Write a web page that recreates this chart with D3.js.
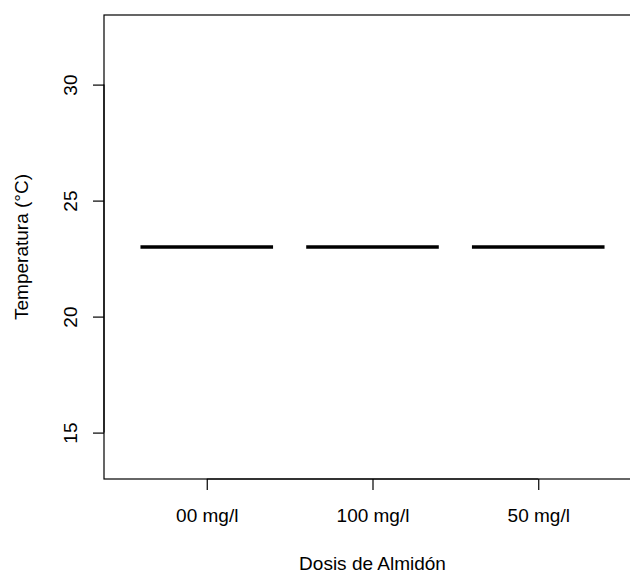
<!DOCTYPE html>
<html>
<head>
<meta charset="utf-8">
<script src="https://cdn.jsdelivr.net/npm/d3@7"></script>
<style>
  body { margin: 0; background: #fff; }
  text { font-family: "Liberation Sans", Arial, sans-serif; fill: #000; }
</style>
</head>
<body>
<div id="chart"></div>
<script>
// boxplot statistics per group (all readings were 23 °C)
var categories = ["00 mg/l", "100 mg/l", "50 mg/l"];
var whiskerLow = [23, 23, 23];
var lowerQ = [23, 23, 23];
var medians = [23, 23, 23];
var upperQ = [23, 23, 23];
var whiskerHigh = [23, 23, 23];
var yTicks = [15, 20, 25, 30];

var width = 630, height = 573;
var mLeft = 104, mRight = 641, mTop = 15, mBottom = 479;

var svg = d3.select("#chart").append("svg")
  .attr("width", width)
  .attr("height", height);

var x = d3.scaleLinear().domain([0.38, categories.length + 0.62]).range([mLeft, mRight]);
var y = d3.scaleLinear().domain([13, 33]).range([mBottom, mTop]);
var boxW = x(0.8) - x(0);

var data = categories.map(function(c, i) {
  return { name: c, pos: i + 1, lo: whiskerLow[i], q1: lowerQ[i], med: medians[i], q3: upperQ[i], hi: whiskerHigh[i] };
});

// boxes
var g = svg.selectAll(".box").data(data).enter().append("g").attr("class", "box");

g.append("line")
  .attr("x1", function(d) { return x(d.pos); })
  .attr("x2", function(d) { return x(d.pos); })
  .attr("y1", function(d) { return y(d.lo); })
  .attr("y2", function(d) { return y(d.hi); })
  .attr("stroke", "#000")
  .attr("stroke-dasharray", "4,3");

g.append("rect")
  .attr("x", function(d) { return x(d.pos) - boxW / 2; })
  .attr("width", boxW)
  .attr("y", function(d) { return y(d.q3); })
  .attr("height", function(d) { return y(d.q1) - y(d.q3); })
  .attr("fill", "none")
  .attr("stroke", "#000");

g.append("line")
  .attr("x1", function(d) { return x(d.pos) - boxW / 2; })
  .attr("x2", function(d) { return x(d.pos) + boxW / 2; })
  .attr("y1", function(d) { return y(d.med); })
  .attr("y2", function(d) { return y(d.med); })
  .attr("stroke", "#000")
  .attr("stroke-width", 3.6);

// frame
svg.append("rect")
  .attr("x", mLeft).attr("y", mTop)
  .attr("width", mRight - mLeft).attr("height", mBottom - mTop)
  .attr("fill", "none").attr("stroke", "#000").attr("stroke-width", 1.2);

// y axis
var yAxis = svg.append("g").attr("transform", "translate(" + mLeft + ",0)")
  .call(d3.axisLeft(y).tickValues(yTicks).tickSize(11).tickFormat(d3.format("d")));
yAxis.select(".domain").attr("d", "M0," + y(15) + "V" + y(30)).attr("stroke-width", 1.2);
yAxis.selectAll(".tick line").attr("stroke-width", 1.2);
yAxis.selectAll(".tick text")
  .attr("x", null).attr("dy", null)
  .attr("text-anchor", "middle")
  .attr("transform", "translate(-27.5,0) rotate(-90)")
  .style("font-size", "19px");

// x axis
var xAxis = svg.append("g").attr("transform", "translate(0," + mBottom + ")")
  .call(d3.axisBottom(x).tickValues(data.map(function(d) { return d.pos; }))
    .tickSize(11).tickFormat(function(v) { return categories[v - 1]; }));
xAxis.select(".domain").attr("d", "M" + x(1) + ",0H" + x(3)).attr("stroke-width", 1.2);
xAxis.selectAll(".tick line").attr("stroke-width", 1.2);
xAxis.selectAll(".tick text")
  .attr("y", 43).attr("dy", null)
  .style("font-size", "19px");

// titles
svg.append("text")
  .attr("x", x(2))
  .attr("y", 570)
  .attr("text-anchor", "middle")
  .style("font-size", "19px")
  .text("Dosis de Almidón");

svg.append("text")
  .attr("transform", "translate(28," + (mTop + mBottom) / 2 + ") rotate(-90)")
  .attr("text-anchor", "middle")
  .style("font-size", "19px")
  .text("Temperatura (°C)");
</script>
</body>
</html>
